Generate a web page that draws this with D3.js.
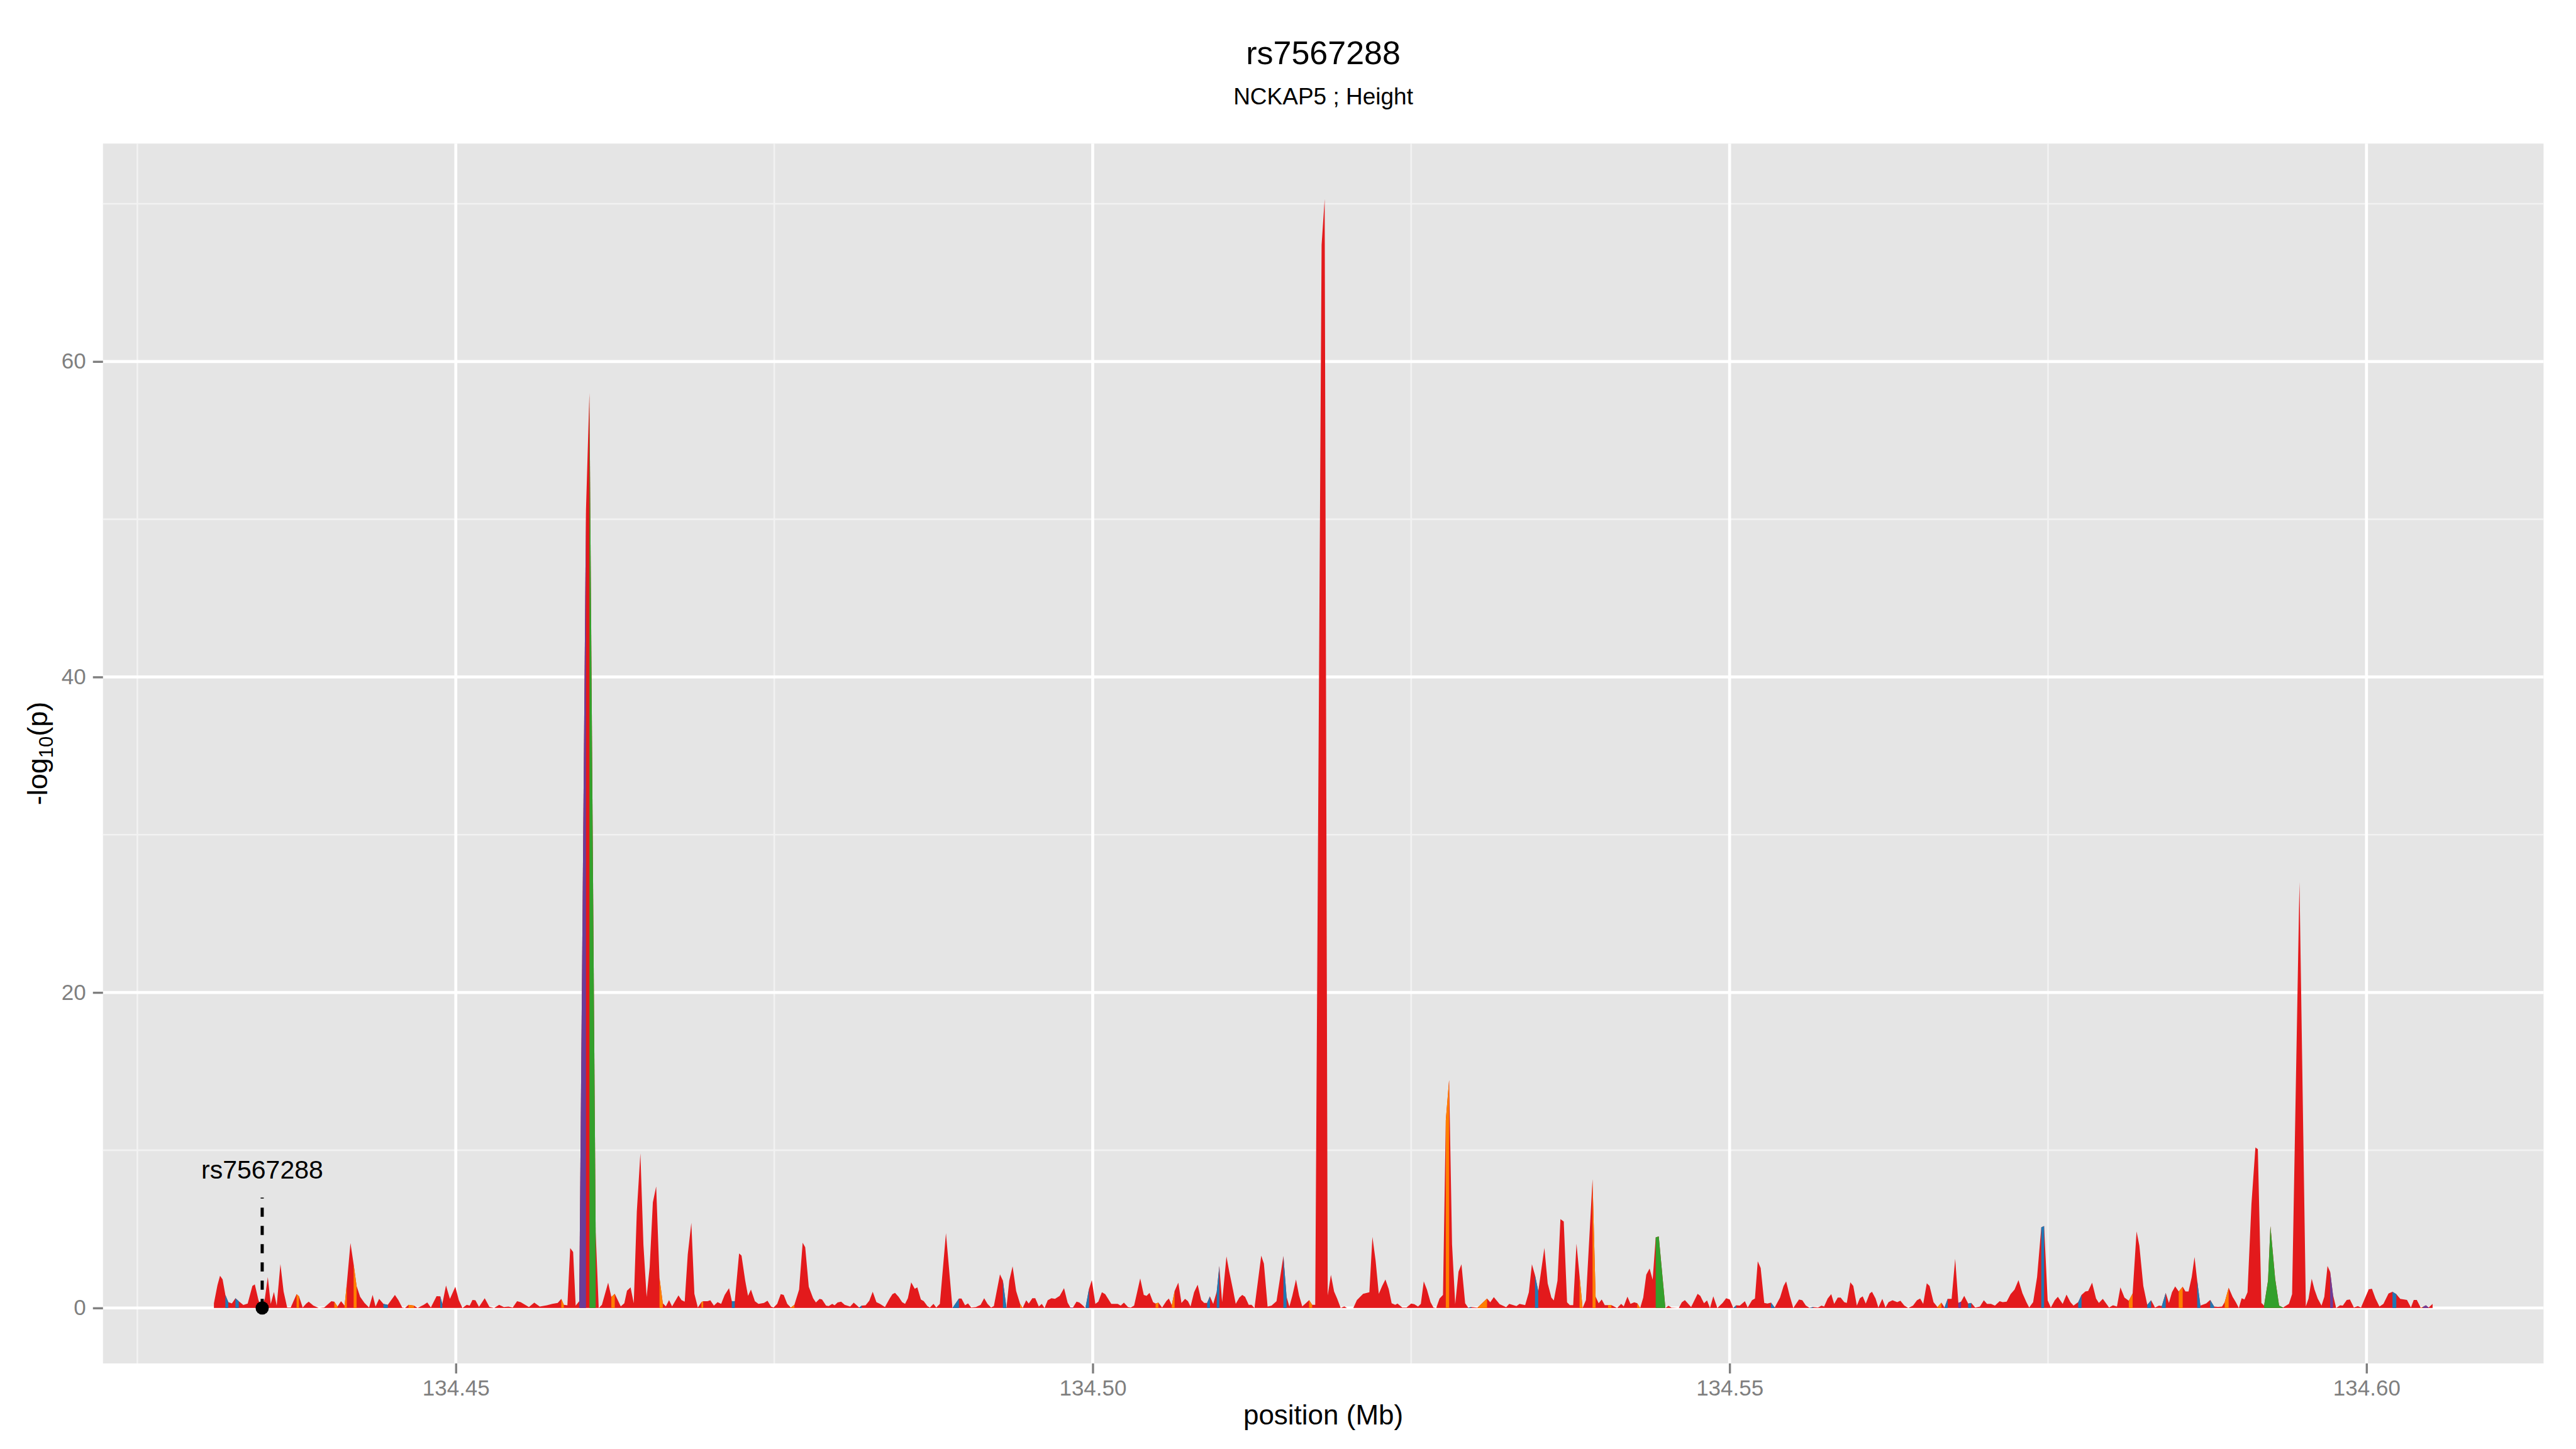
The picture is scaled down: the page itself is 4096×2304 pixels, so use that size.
<!DOCTYPE html>
<html><head><meta charset="utf-8">
<script src="https://cdn.jsdelivr.net/npm/d3@7"></script>
<style>html,body{margin:0;padding:0;background:#fff}svg{display:block}</style>
</head><body><div id="chart"></div>
<script>
// ---------------- DATA ----------------
const titleText = "rs7567288";
const subtitleText = "NCKAP5 ; Height";
const xLabel = "position (Mb)";
const xTicks = [134.45, 134.50, 134.55, 134.60];
const yTicks = [0, 20, 40, 60];
const xMinor = [134.425, 134.475, 134.525, 134.575];
const yMinor = [10, 30, 50, 70];
const annotSNP = "rs7567288";
const annotPos = 134.4348;
const annotLineTop = 7.0;
const annotTextY = 8.2;

const positionMb = [
134.43101,134.43129,134.43149,134.43169,134.43191,134.43214,134.43242,134.43270,134.43296,134.43332,
134.43366,134.43403,134.43422,134.43451,134.43473,134.43501,134.43524,134.43547,134.43572,134.43594,
134.43623,134.43648,134.43676,134.43704,134.43750,134.43769,134.43798,134.43826,134.43845,134.43882,
134.43924,134.43967,134.44023,134.44046,134.44071,134.44099,134.44127,134.44144,134.44173,134.44198,
134.44221,134.44249,134.44283,134.44319,134.44347,134.44370,134.44398,134.44432,134.44466,134.44522,
134.44550,134.44579,134.44601,134.44629,134.44672,134.44700,134.44748,134.44776,134.44804,134.44849,
134.44878,134.44894,134.44923,134.44954,134.44996,134.45024,134.45052,134.45086,134.45109,134.45131,
134.45154,134.45182,134.45227,134.45264,134.45301,134.45340,134.45377,134.45413,134.45447,134.45481,
134.45509,134.45574,134.45616,134.45659,134.45715,134.45757,134.45800,134.45828,134.45848,134.45876,
134.45898,134.45921,134.45941,134.45969,134.46022,134.46049,134.46098,134.46122,134.46147,134.46196,
134.46221,134.46248,134.46295,134.46323,134.46344,134.46372,134.46397,134.46421,134.46449,134.46473,
134.46498,134.46522,134.46547,134.46573,134.46599,134.46625,134.46649,134.46674,134.46698,134.46748,
134.46772,134.46797,134.46821,134.46849,134.46873,134.46900,134.46928,134.46942,134.46976,134.46998,
134.47026,134.47055,134.47083,134.47111,134.47145,134.47167,134.47190,134.47224,134.47243,134.47272,
134.47294,134.47317,134.47348,134.47376,134.47419,134.47447,134.47475,134.47495,134.47523,134.47551,
134.47574,134.47602,134.47630,134.47658,134.47695,134.47723,134.47743,134.47771,134.47805,134.47827,
134.47856,134.47875,134.47907,134.47927,134.47955,134.47974,134.47997,134.48025,134.48053,134.48096,
134.48124,134.48167,134.48186,134.48217,134.48246,134.48273,134.48302,134.48330,134.48369,134.48406,
134.48428,134.48448,134.48476,134.48504,134.48527,134.48549,134.48575,134.48603,134.48623,134.48651,
134.48674,134.48702,134.48722,134.48750,134.48772,134.48800,134.48848,134.48899,134.48950,134.48970,
134.48998,134.49021,134.49046,134.49083,134.49120,134.49148,134.49174,134.49202,134.49224,134.49272,
134.49295,134.49323,134.49345,134.49371,134.49399,134.49430,134.49450,134.49478,134.49498,134.49526,
134.49549,134.49577,134.49600,134.49622,134.49647,134.49676,134.49704,134.49741,134.49775,134.49803,
134.49825,134.49845,134.49873,134.49895,134.49921,134.49943,134.49971,134.49993,134.50021,134.50044,
134.50072,134.50098,134.50146,134.50196,134.50220,134.50245,134.50277,134.50299,134.50325,134.50347,
134.50373,134.50401,134.50423,134.50446,134.50474,134.50494,134.50516,134.50545,134.50579,134.50598,
134.50621,134.50643,134.50672,134.50697,134.50725,134.50748,134.50768,134.50796,134.50824,134.50852,
134.50875,134.50898,134.50920,134.50946,134.50974,134.50994,134.51016,134.51050,134.51072,134.51101,
134.51123,134.51151,134.51174,134.51196,134.51225,134.51247,134.51270,134.51323,134.51344,134.51373,
134.51404,134.51443,134.51497,134.51522,134.51544,134.51567,134.51596,134.51620,134.51645,134.51673,
134.51699,134.51723,134.51747,134.51797,134.51821,134.51845,134.51870,134.51895,134.51919,134.51947,
134.51975,134.51996,134.52046,134.52074,134.52123,134.52172,134.52196,134.52221,134.52246,134.52273,
134.52298,134.52324,134.52347,134.52375,134.52393,134.52430,134.52464,134.52500,134.52525,134.52554,
134.52576,134.52599,134.52624,134.52652,134.52675,134.52697,134.52723,134.52750,134.52772,134.52798,
134.52821,134.52846,134.52872,134.52895,134.52924,134.52948,134.52972,134.53021,134.53096,134.53121,
134.53149,134.53195,134.53246,134.53270,134.53327,134.53351,134.53395,134.53424,134.53448,134.53472,
134.53498,134.53546,134.53572,134.53601,134.53620,134.53649,134.53672,134.53698,134.53724,134.53746,
134.53772,134.53798,134.53822,134.53846,134.53872,134.53924,134.53948,134.53972,134.53996,134.54020,
134.54046,134.54072,134.54117,134.54149,134.54169,134.54198,134.54222,134.54251,134.54275,134.54298,
134.54322,134.54346,134.54372,134.54396,134.54420,134.54444,134.54496,134.54520,134.54544,134.54601,
134.54625,134.54649,134.54698,134.54749,134.54770,134.54799,134.54823,134.54846,134.54872,134.54904,
134.54945,134.54973,134.55001,134.55029,134.55052,134.55080,134.55120,134.55142,134.55176,134.55199,
134.55221,134.55244,134.55272,134.55297,134.55325,134.55354,134.55396,134.55424,134.55444,134.55472,
134.55500,134.55545,134.55571,134.55599,134.55628,134.55657,134.55694,134.55722,134.55742,134.55770,
134.55798,134.55821,134.55849,134.55872,134.55900,134.55920,134.55948,134.55971,134.55999,134.56023,
134.56045,134.56069,134.56100,134.56118,134.56146,134.56168,134.56199,134.56224,134.56248,134.56279,
134.56316,134.56341,134.56372,134.56403,134.56440,134.56471,134.56496,134.56520,134.56548,134.56570,
134.56601,134.56632,134.56663,134.56687,134.56712,134.56743,134.56771,134.56796,134.56817,134.56842,
134.56873,134.56897,134.56928,134.56965,134.56996,134.57021,134.57052,134.57083,134.57120,134.57144,
134.57175,134.57206,134.57237,134.57268,134.57299,134.57330,134.57352,134.57383,134.57414,134.57447,
134.57469,134.57497,134.57522,134.57553,134.57577,134.57615,134.57645,134.57676,134.57700,134.57737,
134.57763,134.57793,134.57815,134.57846,134.57877,134.57899,134.57930,134.57979,134.58010,134.58041,
134.58068,134.58100,134.58134,134.58164,134.58195,134.58217,134.58248,134.58279,134.58309,134.58340,
134.58371,134.58393,134.58424,134.58449,134.58473,134.58498,134.58526,134.58557,134.58579,134.58603,
134.58628,134.58650,134.58671,134.58696,134.58742,134.58773,134.58804,134.58835,134.58866,134.58887,
134.58918,134.58949,134.58974,134.58998,134.59020,134.59042,134.59066,134.59097,134.59128,134.59147,
134.59175,134.59196,134.59227,134.59246,134.59283,134.59314,134.59345,134.59369,134.59391,134.59416,
134.59474,134.59524,134.59545,134.59570,134.59592,134.59617,134.59647,134.59669,134.59694,134.59715,
134.59737,134.59762,134.59793,134.59814,134.59845,134.59870,134.59901,134.59932,134.59957,134.59987,
134.60018,134.60043,134.60071,134.60102,134.60133,134.60173,134.60204,134.60234,134.60265,134.60296,
134.60318,134.60349,134.60371,134.60395,134.60426,134.60441,134.60466,134.60488,134.60519
];

const log10p = [
0.30,1.45,2.04,1.81,0.83,0.37,0.29,0.62,0.43,0.19,
0.28,1.39,1.49,0.49,0.03,0.60,1.96,0.26,1.02,0.15,
2.78,1.05,0.03,0.03,0.88,0.74,0.03,0.28,0.40,0.15,
0.00,0.03,0.43,0.40,0.09,0.43,0.15,1.51,4.12,2.76,
1.39,0.71,0.32,0.03,0.83,0.09,0.58,0.26,0.20,0.83,
0.49,0.03,0.00,0.20,0.15,0.00,0.20,0.35,0.03,0.75,
0.74,0.26,1.42,0.58,1.34,0.49,0.00,0.20,0.15,0.51,
0.49,0.07,0.62,0.07,0.00,0.20,0.06,0.09,0.03,0.43,
0.37,0.06,0.34,0.09,0.17,0.26,0.32,0.58,0.20,0.17,
3.80,3.55,0.15,0.43,50.6,58.0,4.8,0.00,0.20,1.60,
0.70,0.90,0.10,0.30,1.10,1.30,0.30,6.10,9.80,4.00,
0.70,2.60,6.70,7.70,1.90,0.30,0.10,0.50,0.10,0.80,
0.50,0.40,3.40,5.40,0.90,0.03,0.37,0.43,0.43,0.49,
0.15,0.37,0.26,0.83,1.26,0.43,0.43,3.46,3.32,1.73,
0.77,1.17,0.43,0.26,0.32,0.46,0.09,0.03,0.26,0.88,
0.83,0.26,0.03,0.20,1.17,4.14,3.85,1.34,0.62,0.35,
0.58,0.54,0.15,0.12,0.26,0.17,0.35,0.40,0.20,0.09,
0.34,0.03,0.15,0.17,0.46,1.03,0.37,0.26,0.06,0.60,
0.88,0.96,0.71,0.37,0.26,0.62,1.62,1.22,1.30,0.54,
0.43,0.12,0.03,0.26,0.03,0.26,4.74,0.00,0.60,0.60,
0.17,0.29,0.03,0.06,0.20,0.62,0.26,0.03,0.12,2.13,
1.73,0.00,1.73,2.64,1.08,0.26,0.00,0.49,0.28,0.62,
0.62,0.09,0.26,0.00,0.49,0.62,0.58,0.77,1.26,0.34,
0.03,0.03,0.40,0.35,0.17,0.00,1.22,1.76,0.26,0.40,
1.00,0.88,0.26,0.26,0.15,0.34,0.06,0.03,0.15,0.94,
1.87,0.83,0.77,0.96,0.37,0.28,0.34,0.03,0.45,0.60,
0.17,1.08,1.60,0.32,0.58,0.43,0.09,1.00,1.47,0.51,
0.32,0.32,0.74,0.26,1.05,2.66,0.37,3.27,2.30,1.17,
0.26,0.66,0.83,0.71,0.20,0.20,0.00,3.32,2.81,0.09,
0.15,0.43,3.30,0.71,0.09,0.77,1.80,0.80,0.10,0.30,
0.50,0.20,0.20,67.4,70.3,0.80,2.10,1.05,0.60,0.00,
0.10,0.00,0.00,0.50,0.90,1.00,4.50,3.00,0.90,1.40,
1.80,1.20,0.30,0.20,0.28,0.03,0.03,0.28,0.24,0.09,
0.26,1.68,1.17,0.37,0.03,0.00,0.60,0.83,11.9,14.45,
4.05,0.24,2.30,2.77,0.30,0.02,0.06,0.02,0.60,0.36,
0.69,0.24,0.05,0.26,0.12,0.26,0.18,1.00,2.77,2.09,
1.07,3.81,1.55,0.66,0.48,1.73,5.63,5.48,0.36,0.18,
0.18,4.08,2.03,0.00,0.50,8.16,0.72,0.30,0.54,0.18,
0.18,0.18,0.00,0.26,0.10,0.72,0.26,0.36,0.30,0.00,
0.66,2.11,2.50,1.79,4.47,4.53,0.00,0.14,0.02,0.00,
0.36,0.50,0.06,0.90,0.77,0.30,0.48,0.00,0.74,0.00,
0.32,0.62,0.54,0.00,0.17,0.15,0.43,0.03,0.49,0.60,
2.96,2.53,0.32,0.28,0.34,0.03,0.66,1.39,1.68,0.77,
0.00,0.54,0.49,0.15,0.01,0.06,0.03,0.15,0.09,0.60,
0.88,0.26,0.66,0.66,0.37,0.32,1.62,1.39,0.15,0.62,
0.74,0.28,0.92,1.03,0.60,0.03,0.58,0.03,0.37,0.49,
0.37,0.46,0.15,0.00,0.15,0.49,0.60,0.26,1.56,1.39,
0.37,0.06,0.34,0.03,0.58,0.58,3.12,0.32,0.40,0.77,
0.28,0.32,0.03,0.09,0.49,0.26,0.26,0.15,0.43,0.37,
0.40,0.88,1.17,1.76,0.94,0.37,0.03,0.37,1.96,5.11,
5.19,0.49,0.03,0.49,0.71,0.26,0.85,0.37,0.15,0.37,
0.83,1.05,1.08,1.60,0.60,0.32,0.58,0.03,0.17,0.09,
1.30,0.66,0.46,0.92,4.85,3.95,1.39,0.20,0.49,0.03,
0.15,0.12,0.96,0.32,1.00,1.36,1.05,1.34,1.05,1.05,
1.96,3.23,1.73,0.15,0.29,0.51,0.09,0.07,0.09,0.37,
1.28,0.71,0.37,0.00,0.62,0.54,1.00,6.61,10.18,10.07,
0.32,0.15,1.73,5.19,1.85,0.15,0.03,0.15,0.26,0.88,
27.0,0.10,0.60,1.85,1.17,0.60,0.15,0.71,2.66,2.28,
0.83,0.00,0.17,0.15,0.51,0.54,0.03,0.12,0.03,0.60,
1.19,1.22,0.60,0.09,0.26,0.92,1.03,0.88,0.58,0.54,
0.51,0.03,0.51,0.51,0.01,0.06,0.17,0.03,0.26
];

// SNPs whose LD class is not the default (red); segment ending at the SNP takes its colour
const ldBlueSNPs = [134.43214,134.43296,134.44466,134.44894,134.47190,134.48186,134.48950,134.49323,
  134.49971,134.50920,134.50994,134.51522,134.52972,134.53498,134.55052,134.55354,134.55657,134.56712,
  134.56897,134.57469,134.57763,134.58309,134.58424,134.58696,134.58804,134.60234];
const ldOrangeSNPs = [134.43769,134.44071,134.44144,134.44221,134.44672,134.45848,134.46248,134.46625,
  134.46942,134.47658,134.49450,134.50516,134.50643,134.51723,134.52798,134.53096,134.53846,134.53948,
  134.54072,134.54298,134.56663,134.58164,134.58557,134.58918,134.60441];
const ldGreenSNPs = [134.46098,134.54444,134.54496,134.59227,134.59246,134.59283,134.59314,134.59345];
const ldPurpleSNPs = [134.46022,134.49845,134.56817,134.59737,134.60466,134.60488];

const ldColors = {red:"#E31A1C", orange:"#FF7F00", green:"#33A02C", blue:"#1F78B4", purple:"#6A3D9A"};

// ---------------- LAYOUT ----------------
const W = 4096, H = 2304, s = W / 4800;
const P = {left: 191.9*s, right: 4739.5*s, top: 267.5*s, bottom: 2540.5*s};
const FONT = "'Liberation Sans', Arial, Helvetica, sans-serif";

const cls = new Map();
ldBlueSNPs.forEach(p => cls.set(p, "blue"));
ldOrangeSNPs.forEach(p => cls.set(p, "orange"));
ldGreenSNPs.forEach(p => cls.set(p, "green"));
ldPurpleSNPs.forEach(p => cls.set(p, "purple"));

const pts = positionMb.map((p, i) => ({pos: p, v: log10p[i], c: cls.get(p) || "red"}));

const xExt = d3.extent(positionMb), xSpan = xExt[1] - xExt[0];
const yMax = d3.max(log10p);
const x = d3.scaleLinear().domain([xExt[0] - 0.05*xSpan, xExt[1] + 0.05*xSpan]).range([P.left, P.right]);
const y = d3.scaleLinear().domain([-0.05*yMax, yMax*1.05]).range([P.bottom, P.top]);

const svg = d3.select("#chart").append("svg").attr("width", W).attr("height", H);
svg.append("rect").attr("width", W).attr("height", H).attr("fill", "#fff");

svg.append("rect").attr("x", P.left).attr("y", P.top)
  .attr("width", P.right - P.left).attr("height", P.bottom - P.top).attr("fill", "#E5E5E5");

const grid = svg.append("g");
grid.selectAll("line.xm").data(xMinor).join("line")
  .attr("x1", d => x(d)).attr("x2", d => x(d)).attr("y1", P.top).attr("y2", P.bottom)
  .attr("stroke", "#F2F2F2").attr("stroke-width", 2.6);
grid.selectAll("line.ym").data(yMinor).join("line")
  .attr("y1", d => y(d)).attr("y2", d => y(d)).attr("x1", P.left).attr("x2", P.right)
  .attr("stroke", "#F2F2F2").attr("stroke-width", 2.6);
grid.selectAll("line.xM").data(xTicks).join("line")
  .attr("x1", d => x(d)).attr("x2", d => x(d)).attr("y1", P.top).attr("y2", P.bottom)
  .attr("stroke", "#fff").attr("stroke-width", 4.7);
grid.selectAll("line.yM").data(yTicks).join("line")
  .attr("y1", d => y(d)).attr("y2", d => y(d)).attr("x1", P.left).attr("x2", P.right)
  .attr("stroke", "#fff").attr("stroke-width", 4.7);

// area
const area = d3.area().x(d => x(d.pos)).y0(y(0)).y1(d => y(d.v));
svg.append("path").datum(pts).attr("d", area).attr("fill", ldColors.red);

// coloured segments (runs)
const runs = [];
for (let i = 1; i < pts.length; i++) {
  const c = pts[i].c;
  if (c === "red") continue;
  let j = i;
  while (j + 1 < pts.length && pts[j + 1].c === c) j++;
  runs.push({c, seg: pts.slice(i - 1, j + 1)});
  i = j;
}
svg.append("g").selectAll("path").data(runs).join("path")
  .attr("d", d => area(d.seg)).attr("fill", d => ldColors[d.c]);

// annotation
svg.append("line").attr("x1", x(annotPos)).attr("x2", x(annotPos))
  .attr("y1", y(0)).attr("y2", y(annotLineTop))
  .attr("stroke", "#000").attr("stroke-width", 5).attr("stroke-dasharray", "14.5,14.5");
svg.append("circle").attr("cx", x(annotPos)).attr("cy", y(0)).attr("r", 10.5).attr("fill", "#000");
svg.append("text").attr("x", x(annotPos)).attr("y", y(annotTextY))
  .attr("text-anchor", "middle").attr("font-family", FONT).attr("font-size", 41).attr("fill", "#000")
  .text(annotSNP);

// axes
const xAxis = svg.append("g").attr("transform", `translate(0,${P.bottom})`)
  .call(d3.axisBottom(x).tickValues(xTicks).tickFormat(d3.format(".2f")).tickSize(16).tickPadding(10));
const yAxis = svg.append("g").attr("transform", `translate(${P.left},0)`)
  .call(d3.axisLeft(y).tickValues(yTicks).tickFormat(d3.format("d")).tickSize(16).tickPadding(11));
[xAxis, yAxis].forEach(a => {
  a.select(".domain").remove();
  a.selectAll(".tick line").attr("stroke", "#7F7F7F").attr("stroke-width", 3.4);
  a.selectAll(".tick text").attr("fill", "#7F7F7F").attr("font-family", FONT).attr("font-size", 35);
});

// titles
const cx = (P.left + P.right) / 2;
svg.append("text").attr("x", cx).attr("y", 101.5).attr("text-anchor", "middle")
  .attr("font-family", FONT).attr("font-size", 52).text(titleText);
svg.append("text").attr("x", cx).attr("y", 166.4).attr("text-anchor", "middle")
  .attr("font-family", FONT).attr("font-size", 37).text(subtitleText);
svg.append("text").attr("x", cx).attr("y", 2265).attr("text-anchor", "middle")
  .attr("font-family", FONT).attr("font-size", 44).text(xLabel);

const yt = svg.append("text").attr("transform", `translate(75,${(P.top + P.bottom)/2}) rotate(-90)`)
  .attr("text-anchor", "middle").attr("font-family", FONT).attr("font-size", 45);
yt.append("tspan").text("-log");
yt.append("tspan").attr("font-size", 31).attr("dy", 9).text("10");
yt.append("tspan").attr("dy", -9).text("(p)");
</script></body></html>
